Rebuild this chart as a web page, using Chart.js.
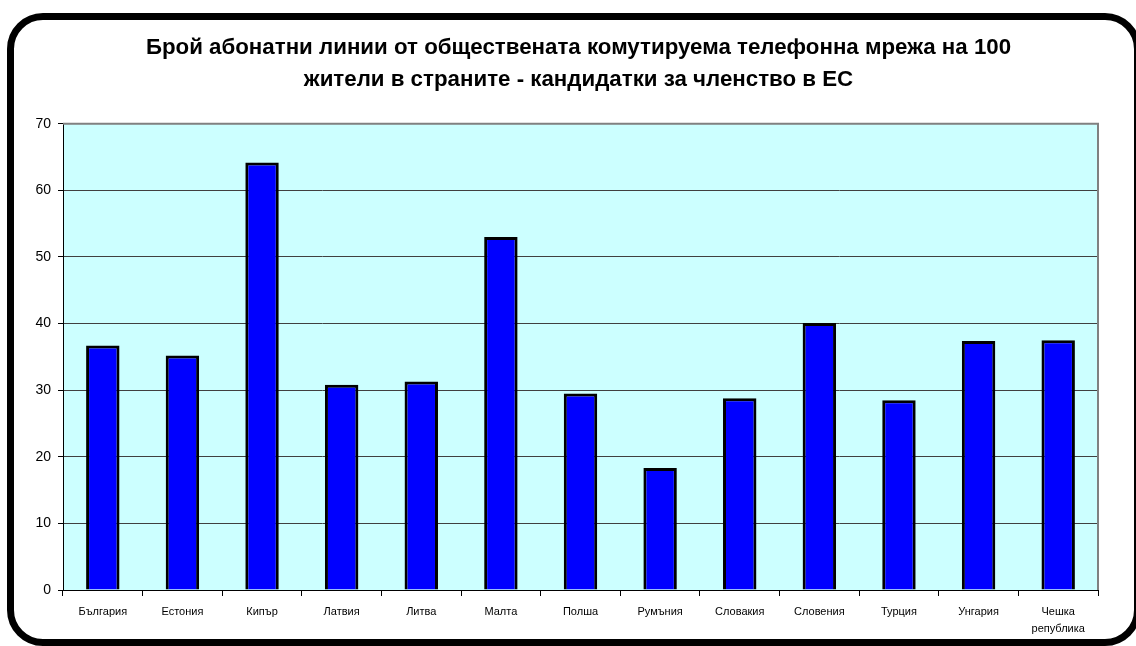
<!DOCTYPE html>
<html>
<head>
<meta charset="utf-8">
<script src="https://cdn.jsdelivr.net/npm/chart.js@4"></script>
<style>
html,body{margin:0;padding:0;background:#fff;}
#wrap{position:relative;width:1136px;height:646px;overflow:hidden;}
#frame{position:absolute;left:7px;top:13px;width:1134px;height:633px;box-sizing:border-box;border:7px solid #000;border-radius:36px;pointer-events:none;}
canvas{position:absolute;left:0;top:0;}
</style>
</head>
<body>
<div id="wrap">
<canvas id="c" width="1136" height="646"></canvas>
<div id="frame"></div>
</div>
<script>
const titleLines = ["Брой абонатни линии от обществената комутируема телефонна мрежа на 100", "жители в страните - кандидатки за членство в ЕС"];
const categories = ["България", "Естония", "Кипър", "Латвия", "Литва", "Малта", "Полша", "Румъния", "Словакия", "Словения", "Турция", "Унгария", ["Чешка", "република"]];
const values = [36.7, 35.2, 64.2, 30.8, 31.3, 53.0, 29.5, 18.3, 28.8, 40.1, 28.5, 37.4, 37.5];
const yMin = 0, yMax = 70, yStep = 10;

const plotBg = {
  id: 'plotBg',
  afterLayout(chart) {
    if (chart.titleBlock) { chart.titleBlock.left += 39; }
  },
  beforeDraw(chart) {
    const {ctx, chartArea: a} = chart;
    ctx.save();
    ctx.fillStyle = '#CCFFFF';
    ctx.fillRect(a.left, a.top, a.right - a.left, a.bottom - a.top);
    ctx.restore();
  },
  afterDatasetsDraw(chart) {
    const {ctx, chartArea: a} = chart;
    ctx.save();
    ctx.strokeStyle = '#808080';
    ctx.lineWidth = 2;
    ctx.beginPath();
    ctx.moveTo(a.left, a.top);
    ctx.lineTo(a.right, a.top);
    ctx.lineTo(a.right, a.bottom);
    ctx.stroke();
    ctx.restore();
  }
};

new Chart(document.getElementById('c'), {
  type: 'bar',
  data: {
    labels: categories,
    datasets: [{
      data: values,
      backgroundColor: '#0000FF',
      borderColor: '#000000',
      borderWidth: 3,
      categoryPercentage: 1.0,
      barPercentage: 0.42
    }]
  },
  options: {
    responsive: false,
    animation: false,
    layout: {padding: {left: 20, right: 38, top: 0, bottom: 12}},
    plugins: {
      legend: {display: false},
      tooltip: {enabled: false},
      title: {
        display: true,
        text: titleLines,
        color: '#000',
        font: {family: 'Liberation Sans', size: 22.3, weight: 'bold', lineHeight: 1.43},
        padding: {top: 32, bottom: 28}
      }
    },
    scales: {
      x: {
        offset: true,
        grid: {display: true, drawOnChartArea: false, drawTicks: true, tickLength: 6, tickColor: '#000', offset: true},
        border: {display: true, color: '#000', width: 1},
        ticks: {color: '#000', font: {family: 'Liberation Sans', size: 11, lineHeight: 1.55}, padding: 7, maxRotation: 0, autoSkip: false},
        afterFit(s) { s.height = 44; }
      },
      y: {
        min: yMin, max: yMax,
        grid: {color: '#404040', lineWidth: 1, tickLength: 5, tickColor: '#000'},
        border: {display: true, color: '#000', width: 1},
        ticks: {stepSize: yStep, color: '#000', font: {family: 'Liberation Sans', size: 14}, padding: 7},
        afterFit(s) { s.width = 43; }
      }
    }
  },
  plugins: [plotBg]
});
</script>
</body>
</html>
